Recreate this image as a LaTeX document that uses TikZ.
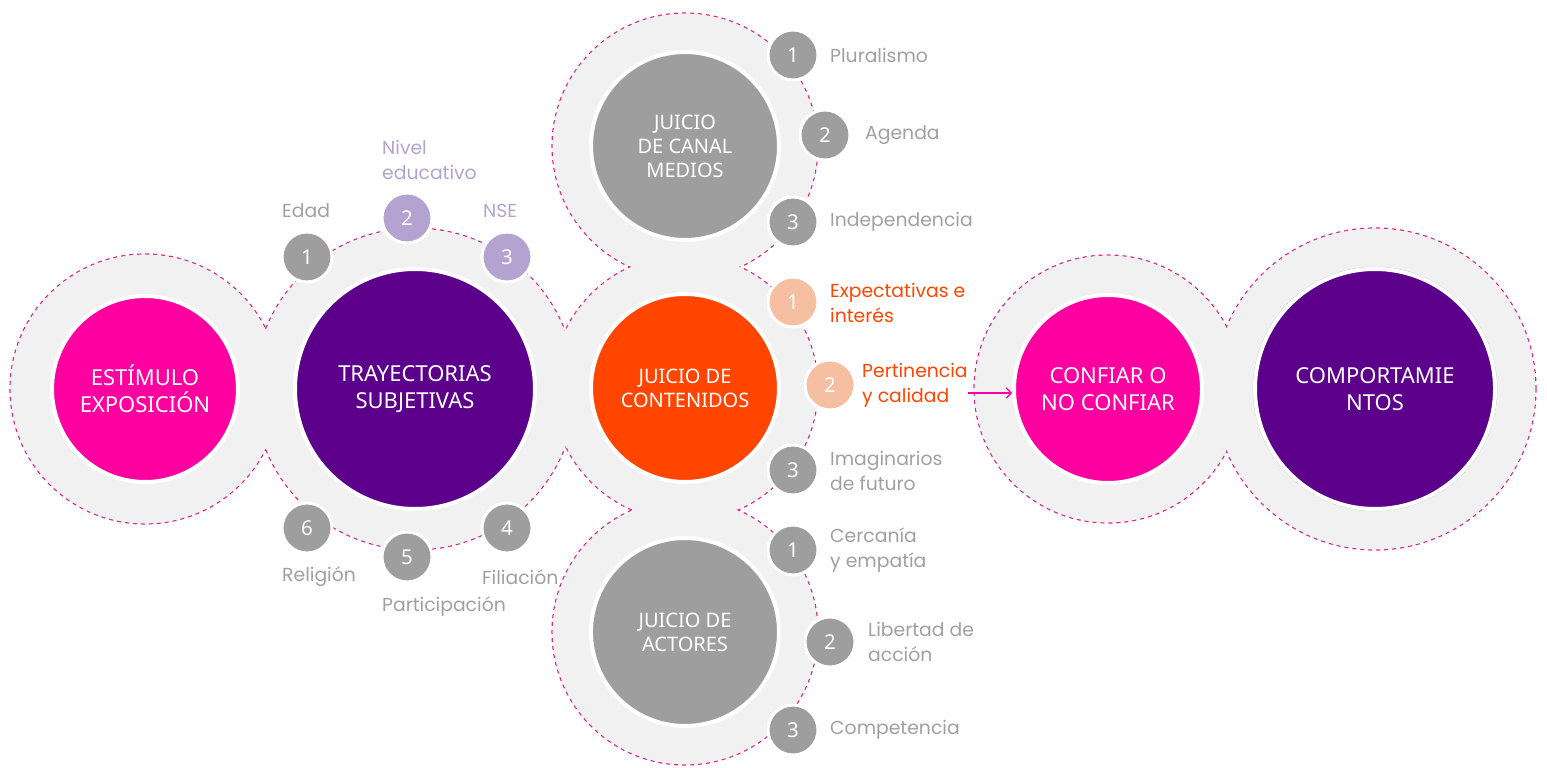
\documentclass[tikz,border=0pt]{standalone}
\usepackage{fontspec}
\setmainfont{Noto Sans}
\newfontfamily\labelfont{Poppins}
\usepackage{tikz}
\usetikzlibrary{arrows.meta}

\definecolor{hotpink}{HTML}{FF00A0}
\definecolor{deeppurple}{HTML}{5C008C}
\definecolor{redorange}{HTML}{FF4500}
\definecolor{midgray}{HTML}{9E9E9E}
\definecolor{labelgray}{HTML}{A0A0A0}
\definecolor{ringgray}{HTML}{F1F1F1}
\definecolor{dashpink}{HTML}{E0248C}
\definecolor{lavender}{HTML}{B4A2D0}
\definecolor{peach}{HTML}{F7BFA2}

\tikzset{
  ring/.style={circle, fill=ringgray, draw=dashpink, line width=1.2pt,
    dash pattern=on 4pt off 4pt, inner sep=0pt, minimum size=#1},
  core/.style={circle, draw=white, line width=4pt, inner sep=0pt,
    minimum size=#1, text=white, align=center,
    font=\fontsize{22}{27}\selectfont},
  judge/.style={font=\fontsize{20}{24}\selectfont},
  badge/.style={circle, fill=#1, draw=white, line width=3pt,
    minimum size=50pt, inner sep=0pt, text=white,
    font=\fontsize{20.5}{24}\selectfont},
  tag/.style={anchor=west, align=left, inner sep=0pt, text=#1,
    font=\labelfont\fontsize{18.8}{25}\selectfont},
  flow/.style={-{Straight Barb[length=5pt,width=10pt]}, draw=hotpink, line width=1.2pt},
}

\begin{document}
\begin{tikzpicture}[x=1pt, y=-1pt]

  \useasboundingbox (0,0) rectangle (1547,768);

  % outer rings
  \node[ring=270pt] (estimRing) at (145,389) {};
  \node[ring=322pt] (trayRing) at (415,389) {};
  \node[ring=266pt] (mediosRing) at (685,146) {};
  \node[ring=266pt] (contRing) at (685,388) {};
  \node[ring=266pt] (actRing) at (685,632) {};
  \node[ring=268pt] (confRing) at (1108,389) {};
  \node[ring=322pt] (compRing) at (1375,389) {};

  % hide the dashes where rings overlap
  \foreach \n/\r in {estimRing/135, trayRing/161, mediosRing/133, contRing/133,
                     actRing/133, confRing/134, compRing/161} {
    \pgfmathsetmacro\rr{\r-0.8}
    \fill[ringgray] (\n.center) circle[radius=\rr pt];
  }

  % main circles
  \node[core=186pt, fill=hotpink] (estim) at (145,389) {ESTÍMULO\\EXPOSICIÓN};
  \node[core=240pt, fill=deeppurple] (tray) at (415,389) {TRAYECTORIAS\\SUBJETIVAS};
  \node[core=188pt, judge, fill=midgray] (medios) at (685,146) {JUICIO\\DE CANAL\\MEDIOS};
  \node[core=188pt, judge, fill=redorange] (cont) at (685,388) {JUICIO DE\\CONTENIDOS};
  \node[core=188pt, judge, fill=midgray] (act) at (685,632) {JUICIO DE\\ACTORES};
  \node[core=188pt, fill=hotpink] (conf) at (1108,389) {CONFIAR O\\NO CONFIAR};
  \draw[gray!45, line width=0.5pt] (1375,389) circle[radius=122pt];
  \node[core=240pt, fill=deeppurple] (comp) at (1375,389) {COMPORTAMIE\\NTOS};

  % trayectorias
  \node[badge=midgray] (t1) at (307,257) {1};
  \node[badge=lavender] (t2) at (407,218) {2};
  \node[badge=lavender] (t3) at (507,257) {3};
  \node[badge=midgray] (t4) at (507,528) {4};
  \node[badge=midgray] (t5) at (407,557) {5};
  \node[badge=midgray] (t6) at (307,528) {6};

  \node[tag=labelgray] (edad) at (282,211) {Edad};
  \node[tag=lavender] (nivel) at (382,160) {Nivel\\educativo};
  \node[tag=lavender] (nse) at (483,211) {NSE};
  \node[tag=labelgray] (filia) at (482,577) {Filiación};
  \node[tag=labelgray] (parti) at (382,607) {Participación};
  \node[tag=labelgray] (relig) at (282,577) {Religión};

  % juicio de canal
  \node[badge=midgray] (m1) at (793,55) {1};
  \node[badge=midgray] (m2) at (825,135) {2};
  \node[badge=midgray] (m3) at (793,222) {3};
  \node[tag=labelgray] (plural) at (830,55) {Pluralismo};
  \node[tag=labelgray] (agenda) at (865,135) {Agenda};
  \node[tag=labelgray] (indep) at (830,222) {Independencia};

  % juicio de contenidos
  \node[badge=peach] (c1) at (793,302) {1};
  \node[badge=peach] (c2) at (830,385) {2};
  \node[badge=midgray] (c3) at (793,470) {3};
  \node[tag=redorange] (expec) at (830,303) {Expectativas e\\interés};
  \node[tag=redorange] (pert) at (862,385) {Pertinencia\\y calidad};
  \node[tag=labelgray] (imag) at (830,471) {Imaginarios\\de futuro};

  % juicio de actores
  \node[badge=midgray] (a1) at (793,550) {1};
  \node[badge=midgray] (a2) at (830,642) {2};
  \node[badge=midgray] (a3) at (793,730) {3};
  \node[tag=labelgray] (cerca) at (830,550) {Cercanía\\y empatía};
  \node[tag=labelgray] (liber) at (868,642) {Libertad de\\acción};
  \node[tag=labelgray] (compe) at (830,730) {Competencia};

  \draw[flow] ([yshift=-8pt]pert.east) -- ([yshift=-8pt]pert.east -| conf.west);

\end{tikzpicture}
\end{document}
